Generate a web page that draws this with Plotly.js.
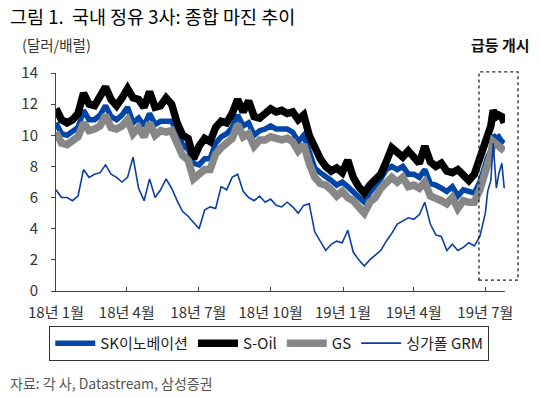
<!DOCTYPE html>
<html>
<head>
<meta charset="utf-8">
<script src="https://cdn.plot.ly/plotly-3.0.1.min.js"></script>
<style>
html,body{margin:0;padding:0;background:#fff;}
#chart{width:540px;height:397px;}
</style>
</head>
<body>
<div id="chart"></div>
<script>
const dates = [
'2018-01-01','2018-01-08','2018-01-15','2018-01-22','2018-01-29','2018-02-05','2018-02-12','2018-02-19','2018-02-26','2018-03-05',
'2018-03-12','2018-03-19','2018-03-26','2018-04-02','2018-04-09','2018-04-16','2018-04-23','2018-04-30','2018-05-07','2018-05-14',
'2018-05-21','2018-05-28','2018-06-04','2018-06-11','2018-06-18','2018-06-25','2018-07-02','2018-07-09','2018-07-16','2018-07-23',
'2018-07-30','2018-08-06','2018-08-13','2018-08-20','2018-08-27','2018-09-03','2018-09-10','2018-09-17','2018-09-24','2018-10-01',
'2018-10-08','2018-10-15','2018-10-22','2018-10-29','2018-11-05','2018-11-12','2018-11-19','2018-11-26','2018-12-03','2018-12-10',
'2018-12-17','2018-12-24','2018-12-31','2019-01-07','2019-01-14','2019-01-21','2019-01-28','2019-02-04','2019-02-11','2019-02-18',
'2019-02-25','2019-03-04','2019-03-11','2019-03-18','2019-03-25','2019-04-01','2019-04-08','2019-04-15','2019-04-22','2019-04-29',
'2019-05-06','2019-05-13','2019-05-20','2019-05-27','2019-06-03','2019-06-10','2019-06-17','2019-06-24','2019-07-01','2019-07-04',
'2019-07-08','2019-07-11','2019-07-15','2019-07-18','2019-07-22','2019-07-25'
];
const skInnovation = [
10.8,10.1,10.0,10.3,10.5,11.6,11.0,11.0,11.3,11.9,
11.2,11.0,11.3,11.8,10.8,11.1,10.6,11.4,10.7,10.9,
10.9,10.9,10.2,9.4,9.1,8.2,8.1,8.5,8.5,9.5,
9.9,10.1,10.5,11.3,10.6,10.8,10.0,10.3,10.4,10.6,
10.4,10.4,10.4,10.2,9.6,10.0,8.9,7.9,7.6,7.4,
7.1,6.8,7.0,6.7,6.4,6.0,5.7,6.3,6.7,7.2,
7.8,8.0,7.8,8.0,7.5,7.5,7.3,7.8,6.9,6.8,
6.6,6.4,6.7,6.1,6.5,6.4,6.3,7.0,8.2,8.6,
9.0,10.0,9.8,9.9,9.6,9.5
];
const sOil = [
11.7,11.0,10.8,11.0,11.4,12.7,12.0,11.9,12.5,13.1,
12.3,11.9,12.4,13.0,12.4,12.3,11.8,12.8,11.8,11.9,
12.4,12.0,10.8,10.0,9.8,8.5,9.3,9.8,9.6,10.5,
10.9,10.8,11.4,12.3,11.5,12.2,11.2,11.1,11.4,11.7,
11.5,11.6,11.4,11.5,11.0,11.3,10.0,9.2,8.5,8.0,
7.7,7.9,7.6,8.4,7.3,6.7,6.3,6.8,7.2,7.5,
8.3,9.2,8.9,8.6,9.0,8.5,8.2,9.3,8.3,8.0,
8.2,7.7,7.6,7.8,7.4,7.1,7.5,8.5,9.6,10.2,
10.6,11.6,11.2,11.3,11.2,10.8
];
const gs = [
10.2,9.5,9.4,9.6,9.9,10.8,10.3,10.4,10.6,11.3,
10.5,10.4,10.6,11.0,10.1,10.5,9.9,10.8,10.0,10.3,
10.2,10.3,9.6,8.7,8.4,7.2,7.5,7.8,7.8,8.8,
9.2,9.5,9.8,10.7,9.9,10.1,9.3,9.7,9.7,9.9,
9.8,9.7,9.8,9.6,9.0,9.4,8.2,7.3,6.9,6.8,
6.5,6.1,6.4,6.0,5.8,5.4,5.0,5.7,6.0,6.6,
7.0,7.3,7.0,7.3,6.7,6.8,6.6,7.0,6.1,6.0,
5.8,5.6,6.0,5.3,5.8,5.7,5.7,6.5,7.6,8.2,
8.8,9.6,9.4,9.3,9.1,9.0
];
const singaporeGRM = [
6.5,6.0,6.0,5.8,6.1,7.8,7.3,7.5,7.6,8.1,
7.5,7.3,7.0,7.3,8.6,6.6,5.8,7.2,6.0,6.5,
7.2,6.6,5.8,5.1,4.8,4.4,4.0,5.2,5.4,5.3,
6.7,6.5,7.3,7.5,6.4,6.0,5.8,6.1,5.7,5.9,
5.5,5.4,5.7,5.4,5.0,5.5,5.6,3.8,3.2,2.6,
3.0,3.2,3.1,3.9,2.5,2.0,1.6,2.0,2.3,2.6,
3.2,3.7,4.3,4.5,4.7,4.6,4.9,5.7,4.3,3.6,
3.5,2.6,3.0,2.6,2.8,3.1,2.9,3.5,5.0,6.4,
7.1,9.5,6.6,7.5,8.2,6.6
];
const seriesNames = ['SK이노베이션','S-Oil','GS','싱가폴 GRM'];
const tickVals = ['2018-01-01','2018-04-01','2018-07-01','2018-10-01','2019-01-01','2019-04-01','2019-07-01'];
const tickText = ['18년 1월','18년 4월','18년 7월','18년 10월','19년 1월','19년 4월','19년 7월'];

const FONT = '"Noto Sans CJK KR","Noto Sans",sans-serif';

const traces = [
  {x: dates, y: skInnovation, name: seriesNames[0], mode: 'lines', line: {color: '#0046A8', width: 5.5}},
  {x: dates, y: sOil, name: seriesNames[1], mode: 'lines', line: {color: '#000000', width: 7.5}},
  {x: dates, y: gs, name: seriesNames[2], mode: 'lines', line: {color: '#878787', width: 7.5}},
  {x: dates, y: singaporeGRM, name: seriesNames[3], mode: 'lines', line: {color: '#0A3FA3', width: 1.6}}
];

const layout = {
  width: 540, height: 397,
  margin: {l: 56, r: 35, t: 73, b: 106},
  paper_bgcolor: '#ffffff', plot_bgcolor: '#ffffff',
  font: {family: FONT, size: 15, color: '#333333'},
  showlegend: true,
  legend: {
    orientation: 'h', x: 0.475, xanchor: 'center', y: -0.16, yanchor: 'top',
    bordercolor: '#333333', borderwidth: 1, font: {family: FONT, size: 15, color: '#222'},
    itemwidth: 40, tracegroupgap: 0
  },
  xaxis: {
    type: 'date', range: ['2018-01-01', '2019-07-26'],
    tickvals: tickVals, ticktext: tickText,
    showgrid: false, zeroline: false, showline: true, linecolor: '#444', linewidth: 1,
    ticks: 'inside', ticklen: 4, tickcolor: '#444',
    tickfont: {family: FONT, size: 15, color: '#333'}, ticklabelstandoff: 8
  },
  yaxis: {
    range: [0, 14], dtick: 2, tick0: 0,
    showgrid: false, zeroline: false, showline: true, linecolor: '#444', linewidth: 1,
    ticks: 'outside', ticklen: 4, tickcolor: '#444',
    tickfont: {family: FONT, size: 15, color: '#333'}, ticklabelstandoff: 10
  },
  shapes: [{
    type: 'rect', xref: 'paper', yref: 'paper',
    x0: 0.942, x1: 1.029, y0: 0.05, y1: 1.005,
    line: {color: '#222', width: 1.3, dash: 'dot'}, fillcolor: 'rgba(0,0,0,0)'
  }],
  annotations: [
    {text: '그림 1.  국내 정유 3사: 종합 마진 추이', xref: 'paper', yref: 'paper', x: -0.108, y: 1.26,
     xanchor: 'left', yanchor: 'middle', showarrow: false, font: {family: FONT, size: 18.5, color: '#000'}},
    {text: '(달러/배럴)', xref: 'paper', yref: 'paper', x: -0.08, y: 1.13,
     xanchor: 'left', yanchor: 'middle', showarrow: false, font: {family: FONT, size: 14.5, color: '#333'}},
    {text: '<b>급등 개시</b>', xref: 'paper', yref: 'paper', x: 0.99, y: 1.13,
     xanchor: 'center', yanchor: 'middle', showarrow: false, font: {family: FONT, size: 15, color: '#111'}},
    {text: '자료: 각 사, Datastream, 삼성증권', xref: 'paper', yref: 'paper', x: -0.108, y: -0.42,
     xanchor: 'left', yanchor: 'middle', showarrow: false, font: {family: FONT, size: 14, color: '#555'}}
  ]
};

Plotly.newPlot('chart', traces, layout, {displayModeBar: false, staticPlot: true});
</script>
</body>
</html>
